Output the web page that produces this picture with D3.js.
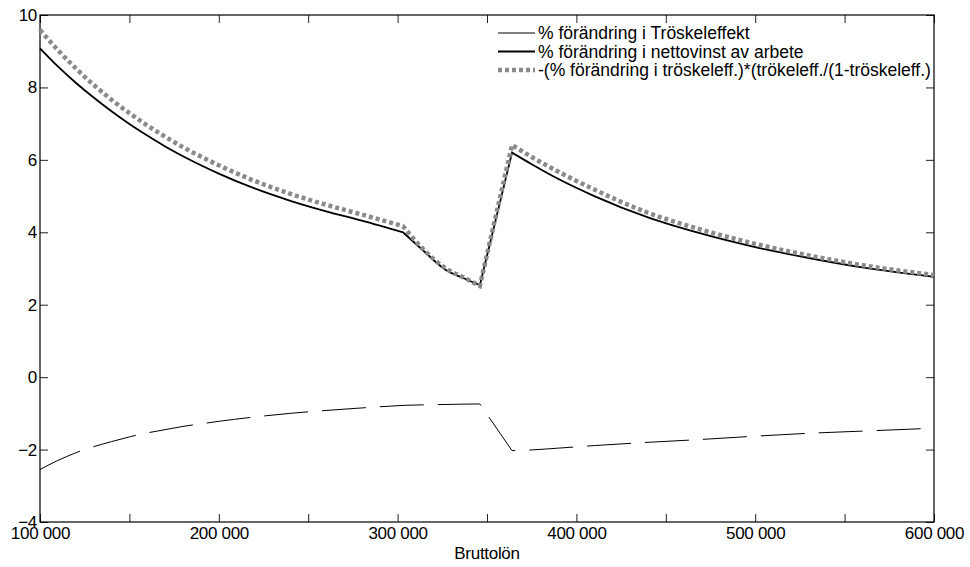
<!DOCTYPE html>
<html>
<head>
<meta charset="utf-8">
<script src="https://cdn.jsdelivr.net/npm/d3@7"></script>
<style>
  body { margin: 0; background: #fff; }
  text { font-family: "Liberation Sans", Arial, sans-serif; fill: #000; }
</style>
</head>
<body>
<svg id="chart"></svg>
<script>
const width = 970, height = 567;
const margin = {top: 15, right: 36, bottom: 45, left: 40};

// Bruttolön (kr)
const brutto = [100000, 110000, 120000, 130000, 140000, 150000, 160000, 170000, 180000, 190000,
  200000, 220000, 240000, 260000, 280000, 303000, 314000, 327000, 337000, 346000,
  364000, 375000, 390000, 410000, 440000, 470000, 500000, 530000, 560000, 600000];

// % förändring i Tröskeleffekt
const troskel = [-2.55, -2.30, -2.09, -1.92, -1.78, -1.65, -1.54, -1.45, -1.36, -1.29,
  -1.22, -1.10, -1.00, -0.92, -0.85, -0.78, -0.765, -0.755, -0.745, -0.74,
  -2.03, -2.01, -1.96, -1.89, -1.80, -1.72, -1.63, -1.55, -1.49, -1.41];

// % förändring i nettovinst av arbete
const netto = [9.08, 8.58, 8.13, 7.72, 7.34, 6.99, 6.67, 6.37, 6.10, 5.85,
  5.62, 5.21, 4.87, 4.58, 4.32, 4.00, 3.51, 2.96, 2.73, 2.54,
  6.20, 5.88, 5.47, 5.00, 4.41, 3.96, 3.59, 3.29, 3.03, 2.77];

// -(% förändring i tröskeleff.)*(tröskeleff./(1-tröskeleff.))
const approx = [9.59, 9.03, 8.53, 8.07, 7.66, 7.29, 6.95, 6.64, 6.35, 6.09,
  5.85, 5.42, 5.06, 4.76, 4.49, 4.17, 3.55, 3.00, 2.75, 2.52,
  6.41, 6.08, 5.67, 5.18, 4.54, 4.07, 3.68, 3.36, 3.09, 2.82];

// kinks in the curves (indexes into brutto)
const breaks = [0, 15, 19, 20, brutto.length - 1];

const xTicks = d3.range(100000, 600001, 50000);
const yTicks = d3.range(-4, 10.1, 2);

const svg = d3.select("#chart")
  .attr("width", width)
  .attr("height", height);

const x = d3.scaleLinear()
  .domain([100000, 600000])
  .range([margin.left, width - margin.right]);

const y = d3.scaleLinear()
  .domain([-4, 10])
  .range([height - margin.bottom, margin.top]);

const loc = d3.formatLocale({decimal: ",", thousands: " ", grouping: [3], currency: ["", " kr"]});
const fmt = loc.format(",d");

// ticks pointing inwards on all four sides
function styleAxis(g) {
  g.select(".domain").remove();
  g.selectAll(".tick line").attr("stroke", "#222");
  g.selectAll(".tick text")
    .style("font-size", "17px")
    .style("letter-spacing", "-0.3px")
    .attr("fill", "#000");
}

svg.append("g")
  .attr("transform", "translate(0," + y.range()[0] + ")")
  .call(d3.axisBottom(x).tickValues(xTicks).tickSize(-8).tickPadding(5)
    .tickFormat(d => d % 100000 === 0 ? fmt(d) : ""))
  .call(styleAxis);

svg.append("g")
  .attr("transform", "translate(0," + y.range()[1] + ")")
  .call(d3.axisTop(x).tickValues(xTicks).tickSize(-8).tickFormat(""))
  .call(styleAxis);

svg.append("g")
  .attr("transform", "translate(" + x.range()[0] + ",0)")
  .call(d3.axisLeft(y).tickValues(yTicks).tickSize(-8).tickPadding(3).tickFormat(d3.format("d")))
  .call(styleAxis);

svg.append("g")
  .attr("transform", "translate(" + x.range()[1] + ",0)")
  .call(d3.axisRight(y).tickValues(yTicks).tickSize(-8).tickFormat(""))
  .call(styleAxis);

// frame
svg.append("rect")
  .attr("x", x.range()[0])
  .attr("y", y.range()[1])
  .attr("width", x.range()[1] - x.range()[0])
  .attr("height", y.range()[0] - y.range()[1])
  .attr("fill", "none")
  .attr("stroke", "#000")
  .attr("stroke-width", 1.2);

svg.append("text")
  .attr("x", (x.range()[0] + x.range()[1]) / 2)
  .attr("y", 559)
  .attr("text-anchor", "middle")
  .style("font-size", "17px")
  .style("letter-spacing", "-0.3px")
  .text("Bruttolön");

// smooth between kinks, sharp at kinks; one path so the dashes run on
function pathFor(vals) {
  const line = d3.line()
    .x(d => x(d[0]))
    .y(d => y(d[1]))
    .curve(d3.curveMonotoneX);
  let p = "";
  for (let i = 0; i < breaks.length - 1; i++) {
    const seg = d3.range(breaks[i], breaks[i + 1] + 1).map(j => [brutto[j], vals[j]]);
    let s = line(seg);
    if (i > 0) s = "L" + s.slice(1);
    p += s;
  }
  return p;
}

const series = [
  {name: "% förändring i Tröskeleffekt", vals: troskel, color: "#000", w: 1, dash: "44,14", legDash: null},
  {name: "% förändring i nettovinst av arbete", vals: netto, color: "#000", w: 1.8, dash: null, legDash: null},
  {name: "-(% förändring i tröskeleff.)*(trökeleff./(1-tröskeleff.)", vals: approx, color: "#8a8a8a", w: 4.5, dash: "4,3", legDash: "4,3"}
];

svg.selectAll("path.series")
  .data(series)
  .join("path")
  .attr("class", "series")
  .attr("d", d => pathFor(d.vals))
  .attr("fill", "none")
  .attr("stroke", d => d.color)
  .attr("stroke-width", d => d.w)
  .attr("stroke-dasharray", d => d.dash);

// legend
const leg = svg.append("g").attr("transform", "translate(498,33)");
const rows = leg.selectAll("g")
  .data(series)
  .join("g")
  .attr("transform", (d, i) => "translate(0," + (i * 18.5) + ")");

rows.append("line")
  .attr("x1", 0).attr("x2", 37)
  .attr("stroke", d => d.color)
  .attr("stroke-width", d => d.w)
  .attr("stroke-dasharray", d => d.legDash);

rows.append("text")
  .attr("x", 40)
  .attr("dy", "0.35em")
  .style("font-size", "17.5px")
  .style("letter-spacing", "0px")
  .text(d => d.name);
</script>
</body>
</html>
